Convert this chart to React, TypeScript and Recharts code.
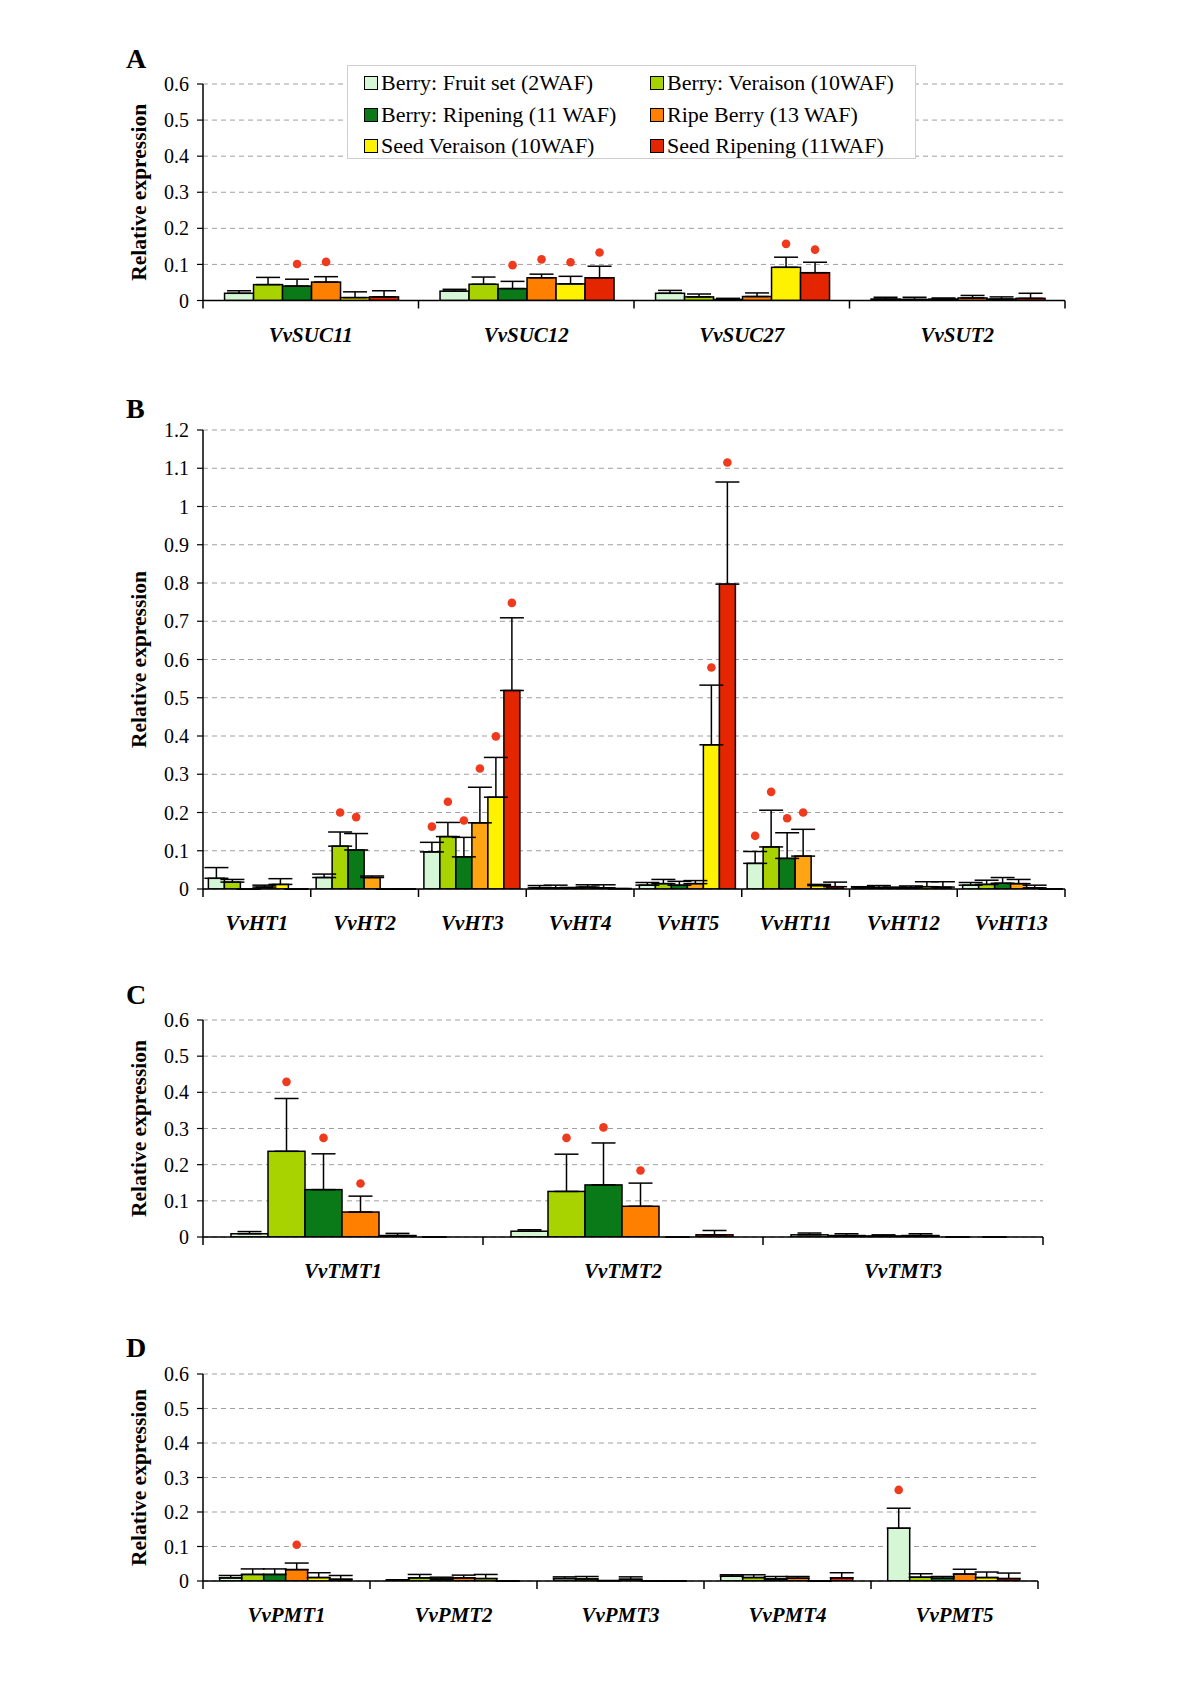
import React from 'react';
import { BarChart, Bar, XAxis, YAxis, CartesianGrid, ErrorBar, Label, Legend } from 'recharts';

const FONT = '"Liberation Serif", "Times New Roman", Times, serif';
const PAGE_W = 1200;
const PLOT_LEFT = 203;
const Y_W = 70;
const X_H = 40;
const TOP_PAD = 60;
const BOTTOM_PAD = 70;

const stages = [
    'Berry: Fruit set (2WAF)',
    'Berry: Veraison (10WAF)',
    'Berry: Ripening (11 WAF)',
    'Ripe Berry (13 WAF)',
    'Seed Veraison (10WAF)',
    'Seed Ripening (11WAF)'
];
const stageColors = ['#d5f7d5', '#a9d300', '#0a7a18', '#ff8000', '#fff200', '#e42600'];
const stageColorsB = ['#d5f7d5', '#a9d300', '#0a7a18', '#ffa514', '#fff200', '#e42600'];

const ticks06 = [0, 0.1, 0.2, 0.3, 0.4, 0.5, 0.6];
const ticks12 = [0, 0.1, 0.2, 0.3, 0.4, 0.5, 0.6, 0.7, 0.8, 0.9, 1, 1.1, 1.2];

// A - sucrose transporters (rows = stages, cols = genes)
const sucGenes = ['VvSUC11', 'VvSUC12', 'VvSUC27', 'VvSUT2'];
const sucMean = [
    [0.020, 0.026, 0.020, 0.004],
    [0.044, 0.045, 0.010, 0.003],
    [0.040, 0.033, 0.003, 0.004],
    [0.051, 0.063, 0.011, 0.007],
    [0.008, 0.046, 0.092, 0.004],
    [0.010, 0.063, 0.077, 0.006]
];
const sucSd = [
    [0.007, 0.005, 0.008, 0.005],
    [0.020, 0.020, 0.008, 0.006],
    [0.019, 0.020, 0.003, 0.003],
    [0.015, 0.010, 0.010, 0.007],
    [0.016, 0.021, 0.028, 0.006],
    [0.017, 0.032, 0.029, 0.014]
];
const sucSig = [
    [null, null, null, null],
    [null, null, null, null],
    [0.101, 0.098, null, null],
    [0.107, 0.114, null, null],
    [null, 0.106, 0.157, null],
    [null, 0.133, 0.141, null]
];

// B - hexose transporters
const htGenes = ['VvHT1', 'VvHT2', 'VvHT3', 'VvHT4', 'VvHT5', 'VvHT11', 'VvHT12', 'VvHT13'];
const htMean = [
    [0.028, 0.030, 0.097, 0.003, 0.010, 0.067, 0.003, 0.010],
    [0.018, 0.112, 0.137, 0.003, 0.014, 0.110, 0.004, 0.012],
    [0, 0.102, 0.084, 0.002, 0.010, 0.080, 0.003, 0.015],
    [0.005, 0.030, 0.173, 0.005, 0.014, 0.086, 0.004, 0.014],
    [0.012, 0, 0.240, 0.003, 0.377, 0.009, 0.006, 0.003],
    [0, 0, 0.519, 0.001, 0.797, 0.006, 0.005, 0]
];
const htSd = [
    [0.028, 0.009, 0.025, 0.006, 0.007, 0.031, 0.003, 0.007],
    [0.007, 0.037, 0.037, 0.007, 0.011, 0.096, 0.005, 0.011],
    [0, 0.043, 0.051, 0.002, 0.010, 0.067, 0.002, 0.015],
    [0.005, 0.004, 0.093, 0.006, 0.008, 0.070, 0.004, 0.011],
    [0.015, 0, 0.104, 0.008, 0.156, 0.003, 0.013, 0.007],
    [0, 0, 0.190, 0, 0.267, 0.012, 0.014, 0]
];
const htSig = [
    [null, null, 0.163, null, null, 0.139, null, null],
    [null, 0.200, 0.228, null, null, 0.254, null, null],
    [null, 0.188, 0.179, null, null, 0.185, null, null],
    [null, null, 0.315, null, null, 0.200, null, null],
    [null, null, 0.399, null, 0.579, null, null, null],
    [null, null, 0.748, null, 1.115, null, null, null]
];

// C - tonoplast monosaccharide transporters
const tmtGenes = ['VvTMT1', 'VvTMT2', 'VvTMT3'];
const tmtMean = [
    [0.009, 0.016, 0.006],
    [0.237, 0.126, 0.004],
    [0.131, 0.144, 0.003],
    [0.069, 0.085, 0.004],
    [0.004, 0, 0],
    [0, 0.006, 0]
];
const tmtSd = [
    [0.006, 0.004, 0.005],
    [0.146, 0.103, 0.005],
    [0.099, 0.116, 0.003],
    [0.044, 0.064, 0.005],
    [0.006, 0, 0],
    [0, 0.012, 0]
];
const tmtSig = [
    [null, null, null],
    [0.429, 0.274, null],
    [0.274, 0.303, null],
    [0.148, 0.184, null],
    [null, null, null],
    [null, null, null]
];

// D - polyol transporters
const pmtGenes = ['VvPMT1', 'VvPMT2', 'VvPMT3', 'VvPMT4', 'VvPMT5'];
const pmtMean = [
    [0.009, 0.003, 0.007, 0.014, 0.153],
    [0.019, 0.009, 0.006, 0.010, 0.011],
    [0.019, 0.006, 0.001, 0.006, 0.008],
    [0.033, 0.009, 0.005, 0.008, 0.020],
    [0.010, 0.007, 0, 0, 0.010],
    [0.005, 0, 0, 0.009, 0.007]
];
const pmtSd = [
    [0.007, 0, 0.005, 0.004, 0.058],
    [0.016, 0.010, 0.007, 0.008, 0.010],
    [0.016, 0.005, 0, 0.007, 0.005],
    [0.019, 0.008, 0.007, 0.005, 0.014],
    [0.014, 0.012, 0, 0, 0.016],
    [0.011, 0, 0, 0.015, 0.016]
];
const pmtSig = [
    [null, null, null, null, 0.264],
    [null, null, null, null, null],
    [null, null, null, null, null],
    [0.105, null, null, null, null],
    [null, null, null, null, null],
    [null, null, null, null, null]
];

const buildRows = (genes: string[], mean: number[][], sd: number[][], sig: (number | null)[][]) =>
    genes.map((gene, i) => {
        const row: Record<string, any> = { gene };
        mean.forEach((m, s) => {
            row[`m${s}`] = m[i];
            row[`e${s}`] = [0, sd[s][i]];
            row[`d${s}`] = sig[s][i];
        });
        return row;
    });

// bar with black outline + red significance dot (placed with the bar's own scale)
const BarShape = (props: any) => {
    const { x, y, width, height, fill, payload, idx } = props;
    const val = payload[`m${idx}`];
    const dot = payload[`d${idx}`];
    if (!(height > 0)) return <g />;
    return (
        <g>
            <rect x={x} y={y} width={width} height={height} fill={fill} stroke="#000" strokeWidth={1.5} />
            {dot != null && val > 0 && (
                <circle cx={x + width / 2} cy={y + height - (dot * height) / val} r={4.3} fill="#f03a1e" />
            )}
        </g>
    );
};

const GeneTick = (props: any) => {
    const { x, y, payload, index, band } = props;
    return (
        <g>
            {index === 0 && <line x1={x - band / 2} x2={x - band / 2} y1={y} y2={y + 8} stroke="#000" strokeWidth={1.5} />}
            <line x1={x + band / 2} x2={x + band / 2} y1={y} y2={y + 8} stroke="#000" strokeWidth={1.5} />
            <text x={x} y={y + 41} textAnchor="middle" fontFamily={FONT} fontSize={21} fontWeight="bold" fontStyle="italic" fill="#000">
                {payload.value}
            </text>
        </g>
    );
};

const LegendBox = ({ colors }: { colors: string[] }) => (
    <div style={{ position: 'relative', width: 569, height: 94, boxSizing: 'border-box', border: '1px solid #cfcfcf', background: '#fff', fontFamily: FONT, fontSize: 22, color: '#000' }}>
        {stages.map((s, i) => (
            <div key={s} style={{ position: 'absolute', left: i % 2 === 0 ? 16 : 302, top: 4 + Math.floor(i / 2) * 31.5, height: 26, display: 'flex', alignItems: 'center', whiteSpace: 'nowrap' }}>
                <span style={{ display: 'inline-block', width: 12, height: 12, border: '1.5px solid #000', background: colors[i], marginRight: 3 }} />
                <span>{s}</span>
            </div>
        ))}
    </div>
);

interface PanelProps {
    letter: string;
    letterTop: number;
    genes: string[];
    mean: number[][];
    sd: number[][];
    sig: (number | null)[][];
    ticks: number[];
    plotTop: number;
    plotBottom: number;
    plotRight: number;
    gap: string;
    colors: string[];
    legend?: boolean;
}

const Panel: React.FC<PanelProps> = ({ letter, letterTop, genes, mean, sd, sig, ticks, plotTop, plotBottom, plotRight, gap, colors, legend }) => {
    const data = buildRows(genes, mean, sd, sig);
    const chartTop = plotTop - TOP_PAD;
    const plotH = plotBottom - plotTop;
    const height = plotH + TOP_PAD + BOTTOM_PAD;
    const band = (plotRight - PLOT_LEFT) / genes.length;
    const labelX = PLOT_LEFT - 57;
    const labelY = TOP_PAD + plotH / 2;
    return (
        <>
            <div style={{ position: 'absolute', left: 126, top: letterTop, fontFamily: FONT, fontSize: 28, lineHeight: '28px', fontWeight: 'bold' }}>{letter}</div>
            <div style={{ position: 'absolute', left: 0, top: chartTop }}>
                <BarChart
                    width={PAGE_W}
                    height={height}
                    data={data}
                    margin={{ top: TOP_PAD, right: PAGE_W - plotRight, bottom: BOTTOM_PAD - X_H, left: PLOT_LEFT - Y_W }}
                    barGap={0}
                    barCategoryGap={gap}
                >
                    <CartesianGrid vertical={false} stroke="#a0a0a0" strokeDasharray="5 4" />
                    <XAxis
                        dataKey="gene"
                        interval={0}
                        height={X_H}
                        tickLine={false}
                        tickSize={0}
                        tickMargin={0}
                        axisLine={{ stroke: '#000', strokeWidth: 1.5 }}
                        tick={(p: any) => <GeneTick {...p} band={band} />}
                    />
                    <YAxis
                        domain={[0, ticks[ticks.length - 1]]}
                        ticks={ticks}
                        interval={0}
                        width={Y_W}
                        allowDataOverflow
                        tickSize={6}
                        tickMargin={8}
                        axisLine={{ stroke: '#000', strokeWidth: 1.5 }}
                        tickLine={{ stroke: '#000', strokeWidth: 1.2 }}
                        tick={{ fill: '#000', fontSize: 20, fontFamily: FONT }}
                        tickFormatter={(v: number) => String(v)}
                    >
                        <Label
                            content={() => (
                                <text x={labelX} y={labelY} transform={`rotate(-90 ${labelX} ${labelY})`} textAnchor="middle" fontFamily={FONT} fontWeight="bold" fontSize={21.5} fill="#000">
                                    Relative expression
                                </text>
                            )}
                        />
                    </YAxis>
                    {legend && (
                        <Legend
                            layout="horizontal"
                            verticalAlign="middle"
                            align="center"
                            wrapperStyle={{ left: 347, top: 65 - chartTop, width: 569, height: 94 }}
                            content={() => <LegendBox colors={colors} />}
                        />
                    )}
                    {stages.map((s, k) => (
                        <Bar key={s} dataKey={`m${k}`} name={s} fill={colors[k]} isAnimationActive={false} shape={(p: any) => <BarShape {...p} idx={k} />}>
                            <ErrorBar dataKey={`e${k}`} width={12} stroke="#000" strokeWidth={1.5} direction="y" />
                        </Bar>
                    ))}
                </BarChart>
            </div>
        </>
    );
};

export default function App() {
    return (
        <div style={{ position: 'absolute', left: 0, top: 0, width: PAGE_W, height: 1695, background: '#fff', fontFamily: FONT }}>
            <Panel letter="A" letterTop={45} genes={sucGenes} mean={sucMean} sd={sucSd} sig={sucSig} ticks={ticks06}
                plotTop={84} plotBottom={300.5} plotRight={1065} gap="10%" colors={stageColors} legend />
            <Panel letter="B" letterTop={395} genes={htGenes} mean={htMean} sd={htSd} sig={htSig} ticks={ticks12}
                plotTop={430} plotBottom={889} plotRight={1065} gap="5%" colors={stageColorsB} />
            <Panel letter="C" letterTop={981} genes={tmtGenes} mean={tmtMean} sd={tmtSd} sig={tmtSig} ticks={ticks06}
                plotTop={1020} plotBottom={1237} plotRight={1043} gap="10%" colors={stageColors} />
            <Panel letter="D" letterTop={1334} genes={pmtGenes} mean={pmtMean} sd={pmtSd} sig={pmtSig} ticks={ticks06}
                plotTop={1374} plotBottom={1581} plotRight={1038} gap="10%" colors={stageColors} />
        </div>
    );
}
